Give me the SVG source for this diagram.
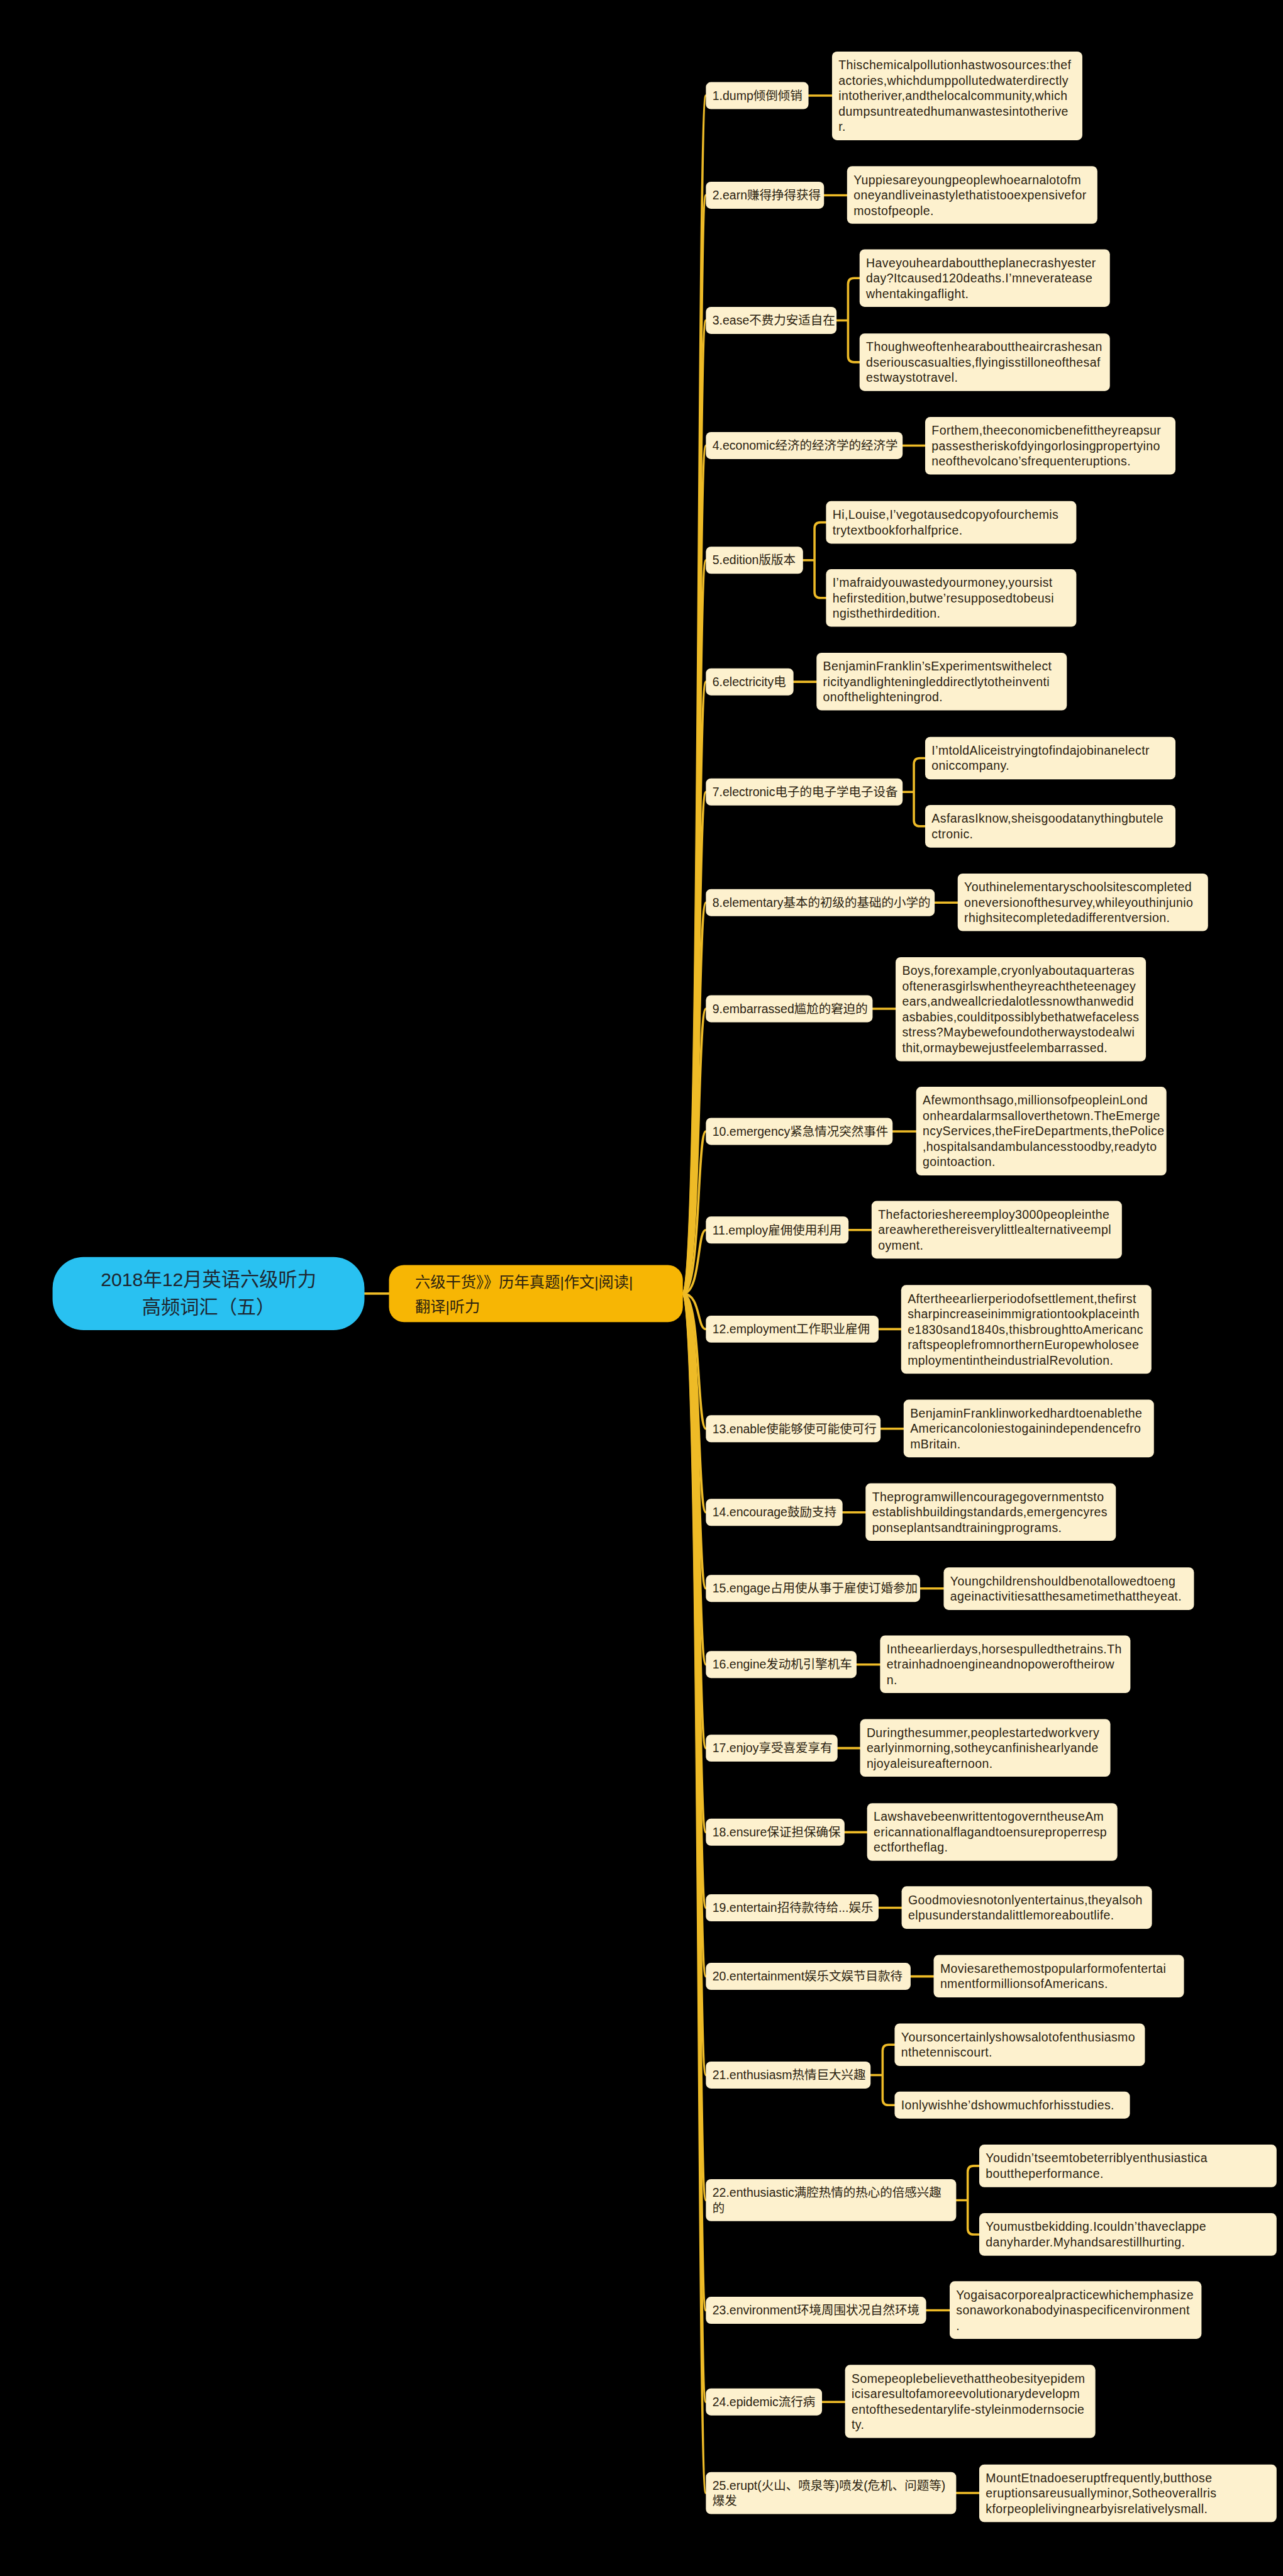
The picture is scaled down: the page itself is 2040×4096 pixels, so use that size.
<svg xmlns="http://www.w3.org/2000/svg" width="2040" height="4096" viewBox="0 0 2040 4096">
<style>
.bx{fill:#FDF1CE}
.t{font-family:"Liberation Sans","Noto Sans CJK SC",sans-serif;font-size:24.5px;fill:#2B2210}
.lf{letter-spacing:0.5px}
.c{fill:none;stroke:#EEBB27;stroke-width:4.5;stroke-linecap:round}
</style>
<rect x="0" y="0" width="2040" height="4096" fill="#000"/>
<g transform="scale(0.796)">
<g id="connectors">
<path class="c" d="M728 2584H777"/>
<path class="c" d="M1364 2584C1400 2584 1392 191 1410 191"/>
<path class="c" d="M1364 2584C1400 2584 1392 390 1410 390"/>
<path class="c" d="M1364 2584C1400 2584 1392 640 1410 640"/>
<path class="c" d="M1364 2584C1400 2584 1392 890 1410 890"/>
<path class="c" d="M1364 2584C1400 2584 1392 1119 1410 1119"/>
<path class="c" d="M1364 2584C1400 2584 1392 1362 1410 1362"/>
<path class="c" d="M1364 2584C1400 2584 1392 1582 1410 1582"/>
<path class="c" d="M1364 2584C1400 2584 1392 1803 1410 1803"/>
<path class="c" d="M1364 2584C1400 2584 1392 2015 1410 2015"/>
<path class="c" d="M1364 2584C1400 2584 1392 2260 1410 2260"/>
<path class="c" d="M1364 2584C1400 2584 1392 2457 1410 2457"/>
<path class="c" d="M1364 2584C1400 2584 1392 2655 1410 2655"/>
<path class="c" d="M1364 2584C1400 2584 1392 2854 1410 2854"/>
<path class="c" d="M1364 2584C1400 2584 1392 3021 1410 3021"/>
<path class="c" d="M1364 2584C1400 2584 1392 3173 1410 3173"/>
<path class="c" d="M1364 2584C1400 2584 1392 3325 1410 3325"/>
<path class="c" d="M1364 2584C1400 2584 1392 3492 1410 3492"/>
<path class="c" d="M1364 2584C1400 2584 1392 3660 1410 3660"/>
<path class="c" d="M1364 2584C1400 2584 1392 3811 1410 3811"/>
<path class="c" d="M1364 2584C1400 2584 1392 3948 1410 3948"/>
<path class="c" d="M1364 2584C1400 2584 1392 4145 1410 4145"/>
<path class="c" d="M1364 2584C1400 2584 1392 4395 1410 4395"/>
<path class="c" d="M1364 2584C1400 2584 1392 4615 1410 4615"/>
<path class="c" d="M1364 2584C1400 2584 1392 4798 1410 4798"/>
<path class="c" d="M1364 2584C1400 2584 1392 4980 1410 4980"/>
<path class="c" d="M1615 191H1662"/>
<path class="c" d="M1646 390H1692"/>
<path class="c" d="M1671 640H1694M1694 640V567.5Q1694 555.5 1706 555.5H1717M1694 640V711.5Q1694 723.5 1706 723.5H1717"/>
<path class="c" d="M1803 890H1848"/>
<path class="c" d="M1604 1119H1627M1627 1119V1055.5Q1627 1043.5 1639 1043.5H1650M1627 1119V1182.5Q1627 1194.5 1639 1194.5H1650"/>
<path class="c" d="M1585 1362H1631"/>
<path class="c" d="M1803 1582H1825.5M1825.5 1582V1526.5Q1825.5 1514.5 1837.5 1514.5H1848M1825.5 1582V1638.5Q1825.5 1650.5 1837.5 1650.5H1848"/>
<path class="c" d="M1867 1803H1913"/>
<path class="c" d="M1743 2015H1789"/>
<path class="c" d="M1783 2260H1830"/>
<path class="c" d="M1695 2457H1741"/>
<path class="c" d="M1755 2655H1800"/>
<path class="c" d="M1759 2854H1805"/>
<path class="c" d="M1683 3021H1729"/>
<path class="c" d="M1838 3173H1885"/>
<path class="c" d="M1711 3325H1758"/>
<path class="c" d="M1673 3492H1718"/>
<path class="c" d="M1687 3660H1732"/>
<path class="c" d="M1755 3811H1801"/>
<path class="c" d="M1819 3948H1865"/>
<path class="c" d="M1739 4145H1763M1763 4145V4096.5Q1763 4084.5 1775 4084.5H1787M1763 4145V4193Q1763 4205 1775 4205H1787"/>
<path class="c" d="M1910 4395H1933M1933 4395V4338.5Q1933 4326.5 1945 4326.5H1956M1933 4395V4451.5Q1933 4463.5 1945 4463.5H1956"/>
<path class="c" d="M1850 4615H1897"/>
<path class="c" d="M1642 4798H1688"/>
<path class="c" d="M1910 4980H1956"/>
</g>

<g id="root">
<rect x="105" y="2511" width="623" height="146" rx="62" fill="#29C1F1"/>
<text x="416.5" y="2569" text-anchor="middle" font-family="Liberation Sans,Noto Sans CJK SC,sans-serif" font-size="38" fill="#1E2630">2018年12月英语六级听力</text>
<text x="416.5" y="2625" text-anchor="middle" font-family="Liberation Sans,Noto Sans CJK SC,sans-serif" font-size="38" fill="#1E2630">高频词汇（五）</text>
</g>
<g id="main">
<rect x="777" y="2527" width="587" height="114" rx="30" fill="#F7B604"/>
<text x="829" y="2572" font-family="Liberation Sans,Noto Sans CJK SC,sans-serif" font-size="30.5" fill="#2B2210">六级干货》》历年真题|作文|阅读|</text>
<text x="829" y="2620" font-family="Liberation Sans,Noto Sans CJK SC,sans-serif" font-size="30.5" fill="#2B2210">翻译|听力</text>
</g>

<g id="n1"><rect class="bx" x="1410" y="164" width="205" height="54" rx="10"/><text class="t" x="1423" y="199.5">1.dump倾倒倾销</text></g>
<g id="l1"><rect class="bx" x="1662" y="103" width="500" height="177" rx="10"/><text class="t lf" x="1675" y="138.5">Thischemicalpollutionhastwosources:thef<tspan x="1675" dy="30.8">actories,whichdumppollutedwaterdirectly</tspan><tspan x="1675" dy="30.8">intotheriver,andthelocalcommunity,which</tspan><tspan x="1675" dy="30.8">dumpsuntreatedhumanwastesintotherive</tspan><tspan x="1675" dy="30.8">r.</tspan></text></g>

<g id="n2"><rect class="bx" x="1410" y="363" width="236" height="54" rx="10"/><text class="t" x="1423" y="398.5">2.earn赚得挣得获得</text></g>
<g id="l2"><rect class="bx" x="1692" y="332" width="500" height="115" rx="10"/><text class="t lf" x="1705" y="367.5">Yuppiesareyoungpeoplewhoearnalotofm<tspan x="1705" dy="30.8">oneyandliveinastylethatistooexpensivefor</tspan><tspan x="1705" dy="30.8">mostofpeople.</tspan></text></g>

<g id="n3"><rect class="bx" x="1410" y="613" width="261" height="54" rx="10"/><text class="t" x="1423" y="648.5">3.ease不费力安适自在</text></g>
<g id="l3a"><rect class="bx" x="1717" y="498" width="500" height="115" rx="10"/><text class="t lf" x="1730" y="533.5">Haveyouheardabouttheplanecrashyester<tspan x="1730" dy="30.8">day?Itcaused120deaths.I’mneveratease</tspan><tspan x="1730" dy="30.8">whentakingaflight.</tspan></text></g>
<g id="l3b"><rect class="bx" x="1717" y="666" width="500" height="115" rx="10"/><text class="t lf" x="1730" y="701.5">Thoughweoftenhearabouttheaircrashesan<tspan x="1730" dy="30.8">dseriouscasualties,flyingisstilloneofthesaf</tspan><tspan x="1730" dy="30.8">estwaystotravel.</tspan></text></g>

<g id="n4"><rect class="bx" x="1410" y="863" width="393" height="54" rx="10"/><text class="t" x="1423" y="898.5">4.economic经济的经济学的经济学</text></g>
<g id="l4"><rect class="bx" x="1848" y="833" width="500" height="115" rx="10"/><text class="t lf" x="1861" y="868.5">Forthem,theeconomicbenefittheyreapsur<tspan x="1861" dy="30.8">passestheriskofdyingorlosingpropertyino</tspan><tspan x="1861" dy="30.8">neofthevolcano’sfrequenteruptions.</tspan></text></g>

<g id="n5"><rect class="bx" x="1410" y="1092" width="194" height="54" rx="10"/><text class="t" x="1423" y="1127.5">5.edition版版本</text></g>
<g id="l5a"><rect class="bx" x="1650" y="1001" width="500" height="85" rx="10"/><text class="t lf" x="1663" y="1036.5">Hi,Louise,I’vegotausedcopyofourchemis<tspan x="1663" dy="30.8">trytextbookforhalfprice.</tspan></text></g>
<g id="l5b"><rect class="bx" x="1650" y="1137" width="500" height="115" rx="10"/><text class="t lf" x="1663" y="1172.5">I’mafraidyouwastedyourmoney,yoursist<tspan x="1663" dy="30.8">hefirstedition,butwe’resupposedtobeusi</tspan><tspan x="1663" dy="30.8">ngisthethirdedition.</tspan></text></g>

<g id="n6"><rect class="bx" x="1410" y="1335" width="175" height="54" rx="10"/><text class="t" x="1423" y="1370.5">6.electricity电</text></g>
<g id="l6"><rect class="bx" x="1631" y="1304" width="500" height="115" rx="10"/><text class="t lf" x="1644" y="1339.5">BenjaminFranklin’sExperimentswithelect<tspan x="1644" dy="30.8">ricityandlighteningleddirectlytotheinventi</tspan><tspan x="1644" dy="30.8">onofthelighteningrod.</tspan></text></g>

<g id="n7"><rect class="bx" x="1410" y="1555" width="393" height="54" rx="10"/><text class="t" x="1423" y="1590.5">7.electronic电子的电子学电子设备</text></g>
<g id="l7a"><rect class="bx" x="1848" y="1472" width="500" height="85" rx="10"/><text class="t lf" x="1861" y="1507.5">I’mtoldAliceistryingtofindajobinanelectr<tspan x="1861" dy="30.8">oniccompany.</tspan></text></g>
<g id="l7b"><rect class="bx" x="1848" y="1608" width="500" height="85" rx="10"/><text class="t lf" x="1861" y="1643.5">AsfarasIknow,sheisgoodatanythingbutele<tspan x="1861" dy="30.8">ctronic.</tspan></text></g>

<g id="n8"><rect class="bx" x="1410" y="1776" width="457" height="54" rx="10"/><text class="t" x="1423" y="1811.5">8.elementary基本的初级的基础的小学的</text></g>
<g id="l8"><rect class="bx" x="1913" y="1745" width="500" height="115" rx="10"/><text class="t lf" x="1926" y="1780.5">Youthinelementaryschoolsitescompleted<tspan x="1926" dy="30.8">oneversionofthesurvey,whileyouthinjunio</tspan><tspan x="1926" dy="30.8">rhighsitecompletedadifferentversion.</tspan></text></g>

<g id="n9"><rect class="bx" x="1410" y="1988" width="333" height="54" rx="10"/><text class="t" x="1423" y="2023.5">9.embarrassed尴尬的窘迫的</text></g>
<g id="l9"><rect class="bx" x="1789" y="1912" width="500" height="208" rx="10"/><text class="t lf" x="1802" y="1947.5">Boys,forexample,cryonlyaboutaquarteras<tspan x="1802" dy="30.8">oftenerasgirlswhentheyreachtheteenagey</tspan><tspan x="1802" dy="30.8">ears,andweallcriedalotlessnowthanwedid</tspan><tspan x="1802" dy="30.8">asbabies,coulditpossiblybethatwefaceless</tspan><tspan x="1802" dy="30.8">stress?Maybewefoundotherwaystodealwi</tspan><tspan x="1802" dy="30.8">thit,ormaybewejustfeelembarrassed.</tspan></text></g>

<g id="n10"><rect class="bx" x="1410" y="2233" width="373" height="54" rx="10"/><text class="t" x="1423" y="2268.5">10.emergency紧急情况突然事件</text></g>
<g id="l10"><rect class="bx" x="1830" y="2171" width="500" height="177" rx="10"/><text class="t lf" x="1843" y="2206.5">Afewmonthsago,millionsofpeopleinLond<tspan x="1843" dy="30.8">onheardalarmsalloverthetown.TheEmerge</tspan><tspan x="1843" dy="30.8">ncyServices,theFireDepartments,thePolice</tspan><tspan x="1843" dy="30.8">,hospitalsandambulancesstoodby,readyto</tspan><tspan x="1843" dy="30.8">gointoaction.</tspan></text></g>

<g id="n11"><rect class="bx" x="1410" y="2430" width="285" height="54" rx="10"/><text class="t" x="1423" y="2465.5">11.employ雇佣使用利用</text></g>
<g id="l11"><rect class="bx" x="1741" y="2399" width="500" height="115" rx="10"/><text class="t lf" x="1754" y="2434.5">Thefactorieshereemploy3000peopleinthe<tspan x="1754" dy="30.8">areawherethereisverylittlealternativeempl</tspan><tspan x="1754" dy="30.8">oyment.</tspan></text></g>

<g id="n12"><rect class="bx" x="1410" y="2628" width="345" height="54" rx="10"/><text class="t" x="1423" y="2663.5">12.employment工作职业雇佣</text></g>
<g id="l12"><rect class="bx" x="1800" y="2567" width="500" height="177" rx="10"/><text class="t lf" x="1813" y="2602.5">Aftertheearlierperiodofsettlement,thefirst<tspan x="1813" dy="30.8">sharpincreaseinimmigrationtookplaceinth</tspan><tspan x="1813" dy="30.8">e1830sand1840s,thisbroughttoAmericanc</tspan><tspan x="1813" dy="30.8">raftspeoplefromnorthernEuropewholosee</tspan><tspan x="1813" dy="30.8">mploymentintheindustrialRevolution.</tspan></text></g>

<g id="n13"><rect class="bx" x="1410" y="2827" width="349" height="54" rx="10"/><text class="t" x="1423" y="2862.5">13.enable使能够使可能使可行</text></g>
<g id="l13"><rect class="bx" x="1805" y="2796" width="500" height="115" rx="10"/><text class="t lf" x="1818" y="2831.5">BenjaminFranklinworkedhardtoenablethe<tspan x="1818" dy="30.8">Americancoloniestogainindependencefro</tspan><tspan x="1818" dy="30.8">mBritain.</tspan></text></g>

<g id="n14"><rect class="bx" x="1410" y="2994" width="273" height="54" rx="10"/><text class="t" x="1423" y="3029.5">14.encourage鼓励支持</text></g>
<g id="l14"><rect class="bx" x="1729" y="2963" width="500" height="115" rx="10"/><text class="t lf" x="1742" y="2998.5">Theprogramwillencouragegovernmentsto<tspan x="1742" dy="30.8">establishbuildingstandards,emergencyres</tspan><tspan x="1742" dy="30.8">ponseplantsandtrainingprograms.</tspan></text></g>

<g id="n15"><rect class="bx" x="1410" y="3146" width="428" height="54" rx="10"/><text class="t" x="1423" y="3181.5">15.engage占用使从事于雇使订婚参加</text></g>
<g id="l15"><rect class="bx" x="1885" y="3131" width="500" height="85" rx="10"/><text class="t lf" x="1898" y="3166.5">Youngchildrenshouldbenotallowedtoeng<tspan x="1898" dy="30.8">ageinactivitiesatthesametimethattheyeat.</tspan></text></g>

<g id="n16"><rect class="bx" x="1410" y="3298" width="301" height="54" rx="10"/><text class="t" x="1423" y="3333.5">16.engine发动机引擎机车</text></g>
<g id="l16"><rect class="bx" x="1758" y="3267" width="500" height="115" rx="10"/><text class="t lf" x="1771" y="3302.5">Intheearlierdays,horsespulledthetrains.Th<tspan x="1771" dy="30.8">etrainhadnoengineandnopoweroftheirow</tspan><tspan x="1771" dy="30.8">n.</tspan></text></g>

<g id="n17"><rect class="bx" x="1410" y="3465" width="263" height="54" rx="10"/><text class="t" x="1423" y="3500.5">17.enjoy享受喜爱享有</text></g>
<g id="l17"><rect class="bx" x="1718" y="3434" width="500" height="115" rx="10"/><text class="t lf" x="1731" y="3469.5">Duringthesummer,peoplestartedworkvery<tspan x="1731" dy="30.8">earlyinmorning,sotheycanfinishearlyande</tspan><tspan x="1731" dy="30.8">njoyaleisureafternoon.</tspan></text></g>

<g id="n18"><rect class="bx" x="1410" y="3633" width="277" height="54" rx="10"/><text class="t" x="1423" y="3668.5">18.ensure保证担保确保</text></g>
<g id="l18"><rect class="bx" x="1732" y="3602" width="500" height="115" rx="10"/><text class="t lf" x="1745" y="3637.5">LawshavebeenwrittentogoverntheuseAm<tspan x="1745" dy="30.8">ericannationalflagandtoensureproperresp</tspan><tspan x="1745" dy="30.8">ectfortheflag.</tspan></text></g>

<g id="n19"><rect class="bx" x="1410" y="3784" width="345" height="54" rx="10"/><text class="t" x="1423" y="3819.5">19.entertain招待款待给...娱乐</text></g>
<g id="l19"><rect class="bx" x="1801" y="3768" width="500" height="85" rx="10"/><text class="t lf" x="1814" y="3803.5">Goodmoviesnotonlyentertainus,theyalsoh<tspan x="1814" dy="30.8">elpusunderstandalittlemoreaboutlife.</tspan></text></g>

<g id="n20"><rect class="bx" x="1410" y="3921" width="409" height="54" rx="10"/><text class="t" x="1423" y="3956.5">20.entertainment娱乐文娱节目款待</text></g>
<g id="l20"><rect class="bx" x="1865" y="3905" width="500" height="85" rx="10"/><text class="t lf" x="1878" y="3940.5">Moviesarethemostpopularformofentertai<tspan x="1878" dy="30.8">nmentformillionsofAmericans.</tspan></text></g>

<g id="n21"><rect class="bx" x="1410" y="4118" width="329" height="54" rx="10"/><text class="t" x="1423" y="4153.5">21.enthusiasm热情巨大兴趣</text></g>
<g id="l21a"><rect class="bx" x="1787" y="4042" width="500" height="85" rx="10"/><text class="t lf" x="1800" y="4077.5">Yoursoncertainlyshowsalotofenthusiasmo<tspan x="1800" dy="30.8">nthetenniscourt.</tspan></text></g>
<g id="l21b"><rect class="bx" x="1787" y="4178" width="470" height="54" rx="10"/><text class="t lf" x="1800" y="4213.5">Ionlywishhe’dshowmuchforhisstudies.</text></g>

<g id="n22"><rect class="bx" x="1410" y="4353" width="500" height="84" rx="10"/><text class="t" x="1423" y="4388.5">22.enthusiastic满腔热情的热心的倍感兴趣<tspan x="1423" dy="30.8">的</tspan></text></g>
<g id="l22a"><rect class="bx" x="1956" y="4284" width="594" height="85" rx="10"/><text class="t lf" x="1969" y="4319.5">Youdidn’tseemtobeterriblyenthusiastica<tspan x="1969" dy="30.8">bouttheperformance.</tspan></text></g>
<g id="l22b"><rect class="bx" x="1956" y="4421" width="594" height="85" rx="10"/><text class="t lf" x="1969" y="4456.5">Youmustbekidding.Icouldn’thaveclappe<tspan x="1969" dy="30.8">danyharder.Myhandsarestillhurting.</tspan></text></g>

<g id="n23"><rect class="bx" x="1410" y="4588" width="440" height="54" rx="10"/><text class="t" x="1423" y="4623.5">23.environment环境周围状况自然环境</text></g>
<g id="l23"><rect class="bx" x="1897" y="4557" width="503" height="115" rx="10"/><text class="t lf" x="1910" y="4592.5">Yogaisacorporealpracticewhichemphasize<tspan x="1910" dy="30.8">sonaworkonabodyinaspecificenvironment</tspan><tspan x="1910" dy="30.8">.</tspan></text></g>

<g id="n24"><rect class="bx" x="1410" y="4771" width="232" height="54" rx="10"/><text class="t" x="1423" y="4806.5">24.epidemic流行病</text></g>
<g id="l24"><rect class="bx" x="1688" y="4724" width="500" height="146" rx="10"/><text class="t lf" x="1701" y="4759.5">Somepeoplebelievethattheobesityepidem<tspan x="1701" dy="30.8">icisaresultofamoreevolutionarydevelopm</tspan><tspan x="1701" dy="30.8">entofthesedentarylife-styleinmodernsocie</tspan><tspan x="1701" dy="30.8">ty.</tspan></text></g>

<g id="n25"><rect class="bx" x="1410" y="4938" width="500" height="84" rx="10"/><text class="t" x="1423" y="4973.5">25.erupt(火山、喷泉等)喷发(危机、问题等)<tspan x="1423" dy="30.8">爆发</tspan></text></g>
<g id="l25"><rect class="bx" x="1956" y="4923" width="594" height="115" rx="10"/><text class="t lf" x="1969" y="4958.5">MountEtnadoeseruptfrequently,butthose<tspan x="1969" dy="30.8">eruptionsareusuallyminor,Sotheoverallris</tspan><tspan x="1969" dy="30.8">kforpeoplelivingnearbyisrelativelysmall.</tspan></text></g>
</g>
</svg>
